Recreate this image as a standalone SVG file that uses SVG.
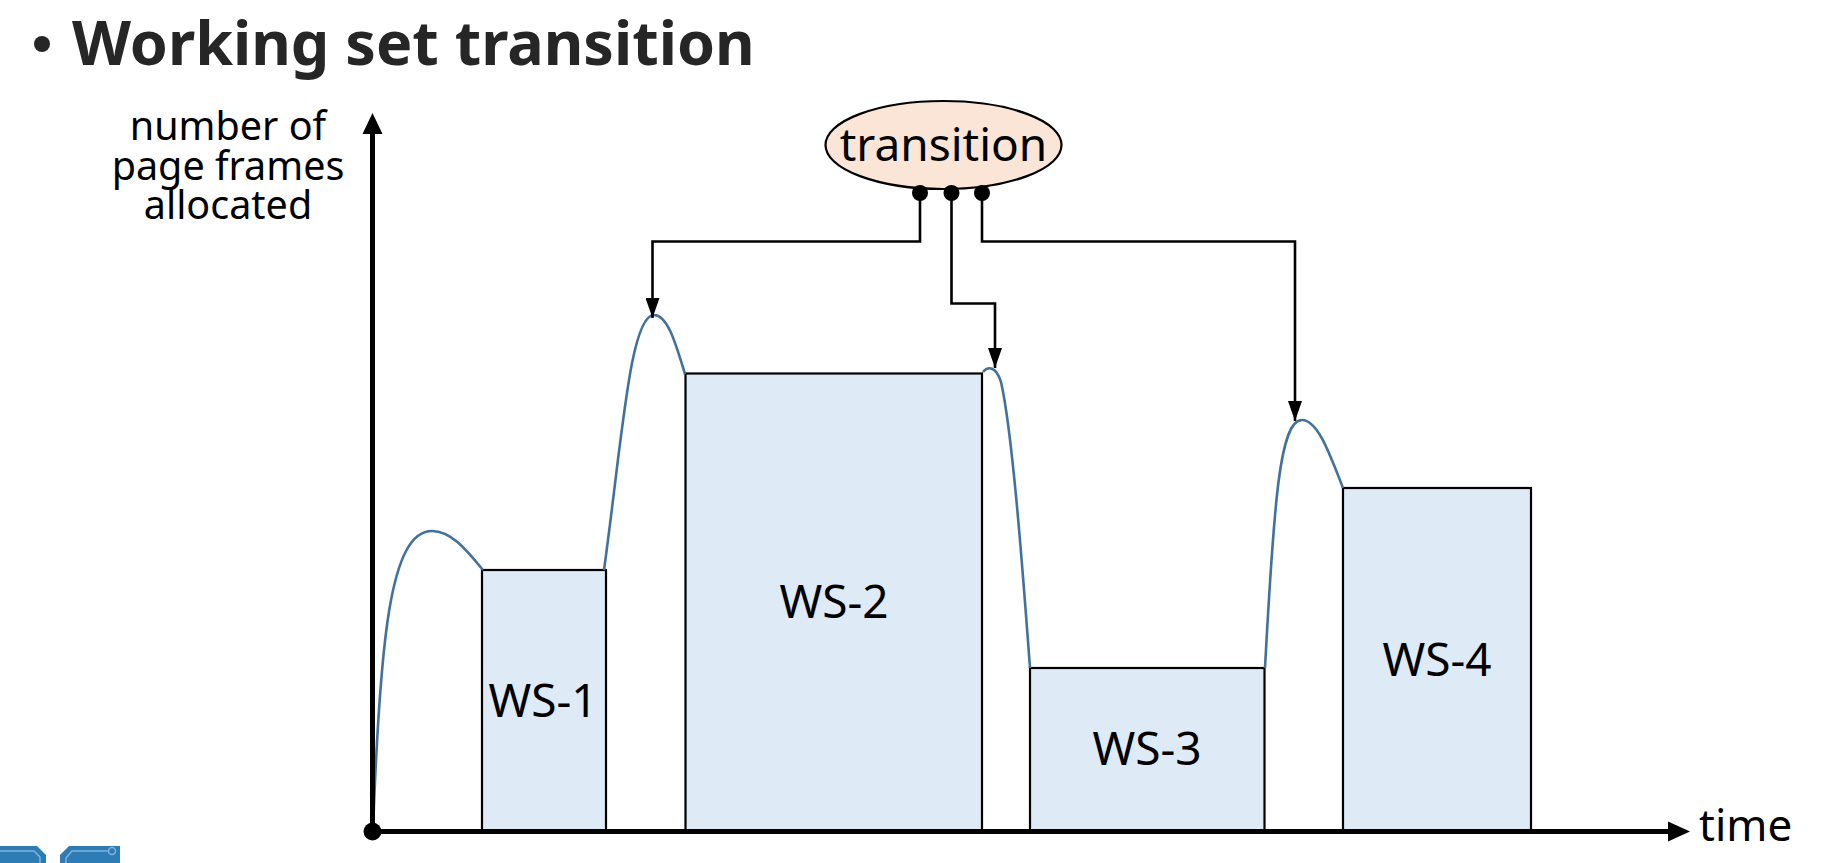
<svg xmlns="http://www.w3.org/2000/svg" width="1831" height="863" viewBox="0 0 1831 863">
<defs>
<marker id="ah" viewBox="0 0 20 14" refX="20" refY="7" markerWidth="20" markerHeight="14" markerUnits="userSpaceOnUse" orient="auto">
<path d="M0,0 L20,7 L0,14 Z" fill="#000"/>
</marker>
<style>
.t{font-family:"Noto Sans","Open Sans","DejaVu Sans",sans-serif;fill:#000}
.ws{fill:#deeaf6;stroke:#000;stroke-width:2.2}
.lbl{font-size:46px;text-anchor:middle}
.conn{fill:none;stroke:#000;stroke-width:2.6}
.curve{fill:none;stroke:#41719c;stroke-width:2.6}
.dot{fill:#000}
</style>
</defs>
<rect width="1831" height="863" fill="#fff"/>
<g id="title">
<circle cx="42" cy="44" r="8" fill="#262626"/>
<text x="72" y="65" class="t" style="font-size:61px;font-weight:bold;fill:#262626">Working set transition</text>
</g>
<g id="ylabel">
<text class="t" style="font-size:39.5px" text-anchor="middle"><tspan x="228" y="140">number of</tspan><tspan x="228" y="180">page frames</tspan><tspan x="228" y="219">allocated</tspan></text>
</g>
<g id="ws1"><rect class="ws" x="482" y="570" width="124" height="261"/><text class="t lbl" x="543" y="717">WS-1</text></g>
<g id="ws2"><rect class="ws" x="685.5" y="373.5" width="296.5" height="457.5"/><text class="t lbl" x="834" y="618">WS-2</text></g>
<g id="ws3"><rect class="ws" x="1030" y="668" width="234.5" height="163"/><text class="t lbl" x="1147" y="765">WS-3</text></g>
<g id="ws4"><rect class="ws" x="1343" y="488" width="188" height="343"/><text class="t lbl" x="1437" y="676">WS-4</text></g>
<g id="curve">
<path class="curve" d="M373,830 C380,640 390,531 432,531 C452,531 468,552 483,570"/>
<path class="curve" d="M604,570 C622,440 630,315 654,315 C668,315 676,345 685,374"/>
<path class="curve" d="M983,372 C988,366 996,366 1001,382 C1012,430 1022,560 1030,668"/>
<path class="curve" d="M1265,668 C1274,500 1280,420 1302,420 C1318,420 1330,455 1343,488"/>
</g>
<g id="axes">
<line x1="372.5" y1="831.5" x2="372.5" y2="132" stroke="#000" stroke-width="5"/>
<path d="M362.5,134 L382.5,134 L372.5,113 Z" fill="#000"/>
<line x1="372.5" y1="831.5" x2="1670" y2="831.5" stroke="#000" stroke-width="5"/>
<path d="M1668,821.5 L1668,841.5 L1690,831.5 Z" fill="#000"/>
<circle cx="372.5" cy="831.5" r="9" class="dot"/>
<text x="1699" y="841" class="t" style="font-size:44px">time</text>
</g>
<g id="transition">
<ellipse cx="943.5" cy="145" rx="118" ry="44" fill="#fbe5d6" stroke="#000" stroke-width="2.2"/>
<text x="943.5" y="161" class="t" style="font-size:46px" text-anchor="middle">transition</text>
</g>
<g id="connectors">
<path class="conn" d="M920,193 V241.5 H652.5 V318" marker-end="url(#ah)"/>
<path class="conn" d="M951.5,193 V303.5 H995 V368" marker-end="url(#ah)"/>
<path class="conn" d="M982,193 V241.5 H1295 V421" marker-end="url(#ah)"/>
<circle cx="920" cy="193" r="8" class="dot"/>
<circle cx="951.5" cy="193" r="8" class="dot"/>
<circle cx="982" cy="193" r="8" class="dot"/>
</g>
<g id="logo">
<path d="M0,846 L37,846 L46,855 L46,863 L0,863 Z" fill="#2e7cb6"/>
<path d="M0,851 L34,851 L40,857 L40,863" fill="none" stroke="#7fb3dc" stroke-width="1.5"/>
<path d="M69,846 L120,846 L120,863 L60,863 L60,855 Z" fill="#2e7cb6"/>
<path d="M66,863 L66,858 L72,851 L108,851" fill="none" stroke="#7fb3dc" stroke-width="1.5"/>
<circle cx="112" cy="851" r="3.5" fill="none" stroke="#7fb3dc" stroke-width="1.5"/>
</g>
</svg>
